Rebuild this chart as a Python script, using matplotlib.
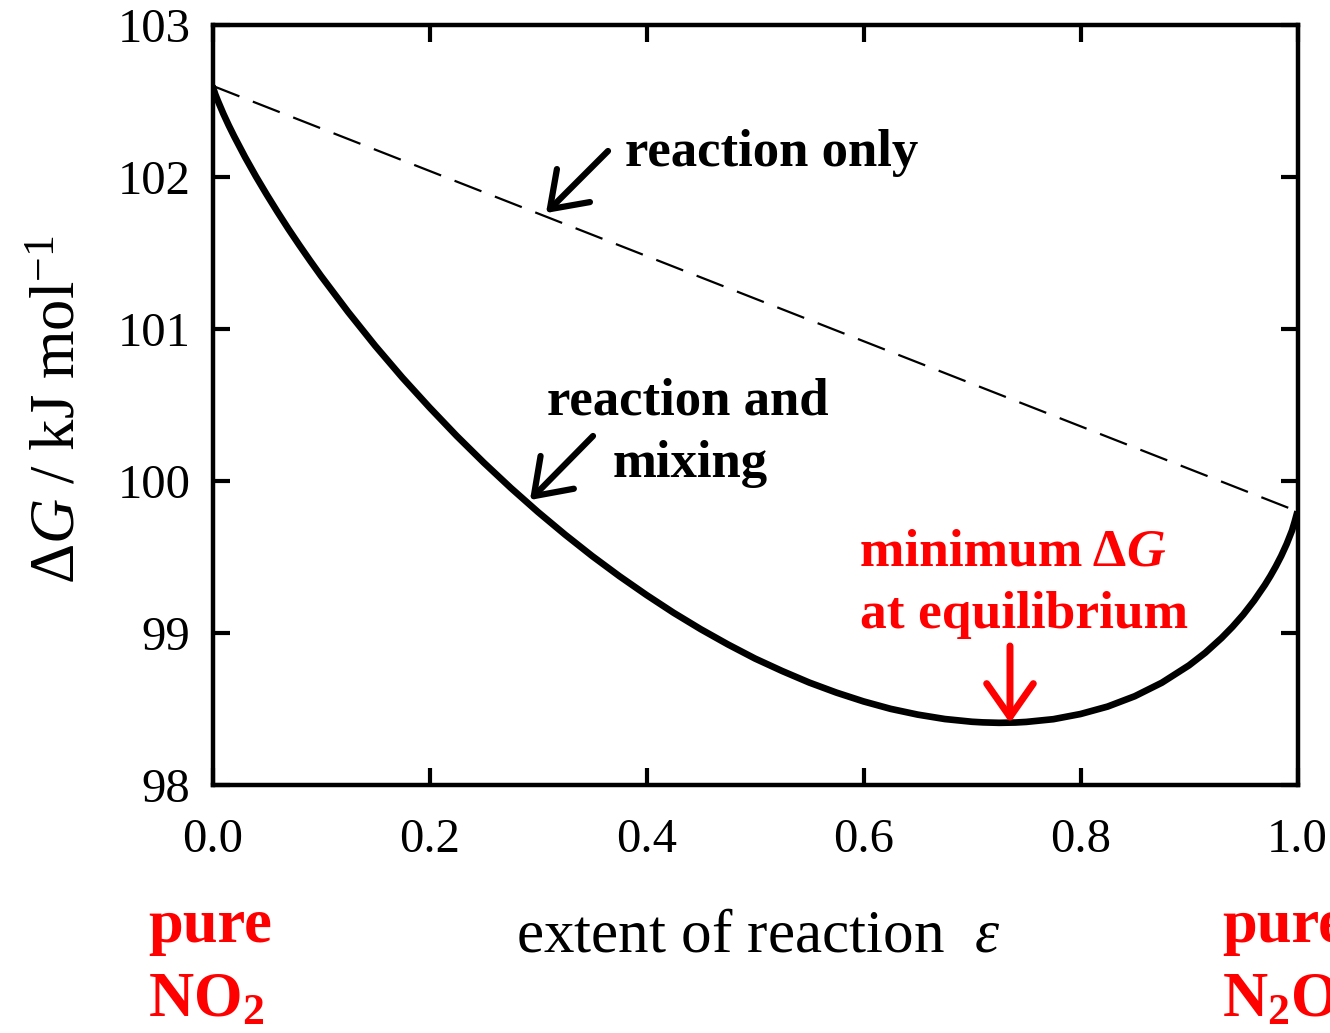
import matplotlib
matplotlib.use("Agg")
import matplotlib.pyplot as plt

plt.rcParams['font.family'] = ['Liberation Serif', 'DejaVu Serif']
plt.rcParams['mathtext.fontset'] = 'custom'
plt.rcParams['mathtext.rm'] = 'Liberation Serif'
plt.rcParams['mathtext.it'] = 'Liberation Serif:italic'
plt.rcParams['mathtext.bf'] = 'Liberation Serif:bold'

# ---- data ----
extent = [0.0, 0.0025, 0.005, 0.01, 0.015, 0.02, 0.03, 0.04, 0.05, 0.06,
          0.07, 0.08, 0.09, 0.10, 0.125, 0.15, 0.175, 0.20, 0.225, 0.25,
          0.275, 0.30, 0.325, 0.35, 0.375, 0.40, 0.425, 0.45, 0.475, 0.50,
          0.525, 0.55, 0.575, 0.60, 0.625, 0.65, 0.675, 0.70, 0.71, 0.725,
          0.74, 0.75, 0.775, 0.80, 0.825, 0.85, 0.875, 0.90, 0.915, 0.93,
          0.94, 0.95, 0.96, 0.97, 0.975, 0.98, 0.985, 0.99, 0.995, 0.9975,
          1.0]
dG_mixing = [102.600, 102.545, 102.500, 102.416, 102.339, 102.267, 102.131,
             102.004, 101.884, 101.769, 101.658, 101.552, 101.449, 101.349,
             101.112, 100.889, 100.680, 100.484, 100.297, 100.121, 99.954,
             99.796, 99.647, 99.506, 99.374, 99.250, 99.133, 99.025, 98.925,
             98.832, 98.750, 98.674, 98.608, 98.550, 98.501, 98.463, 98.434,
             98.416, 98.412, 98.409, 98.411, 98.415, 98.433, 98.467, 98.516,
             98.584, 98.673, 98.787, 98.870, 98.967, 99.040, 99.121, 99.213,
             99.317, 99.375, 99.438, 99.507, 99.585, 99.675, 99.735, 99.800]
extent_line = [0.0, 1.0]
dG_reaction_only = [102.60, 99.80]
xticks = [0.0, 0.2, 0.4, 0.6, 0.8, 1.0]
xtick_labels = ['0.0', '0.2', '0.4', '0.6', '0.8', '1.0']
yticks = [98, 99, 100, 101, 102, 103]
ytick_labels = ['98', '99', '100', '101', '102', '103']

W, H = 1330, 1033
fig = plt.figure(figsize=(W / 100, H / 100), dpi=100)
L, R, T, B = 212.5, 1297.5, 25, 785
ax = fig.add_axes([L / W, 1 - B / H, (R - L) / W, (B - T) / H])

ax.plot(extent, dG_mixing, color='black', lw=4.8, solid_capstyle='butt',
        solid_joinstyle='round', zorder=3)
ln, = ax.plot(extent_line, dG_reaction_only, color='black', lw=1.6, zorder=2)
ln.set_dashes((13, 6.5))

ax.set_xlim(0, 1)
ax.set_ylim(98, 103)
ax.set_xticks(xticks)
ax.set_xticklabels(xtick_labels)
ax.set_yticks(yticks)
ax.set_yticklabels(ytick_labels)
for s in ax.spines.values():
    s.set_linewidth(3.2)
ax.tick_params(direction='in', length=12, width=3.0, top=True, right=True,
               labelsize=35)
ax.tick_params(axis='x', pad=24)
ax.tick_params(axis='y', pad=16)

def fp(x, y):
    return (x, H - y)

# axis labels
fig.text(758 / W, 1 - 952 / H, r'extent of reaction  $\varepsilon$',
         fontsize=44, ha='center', va='baseline')
fig.text(60 / W, 1 - 410 / H, r'$\Delta G$ / kJ mol$^{-1}$',
         fontsize=45, rotation=90, ha='center', va='center')

# black annotations
fig.text(625 / W, 1 - 166 / H, 'reaction only', fontsize=38,
         fontweight='bold', ha='left', va='baseline')
fig.text(688 / W, 1 - 414 / H, 'reaction and', fontsize=38,
         fontweight='bold', ha='center', va='baseline')
fig.text(690 / W, 1 - 477 / H, 'mixing', fontsize=38,
         fontweight='bold', ha='center', va='baseline')

arrow_kw = dict(arrowstyle='->,head_length=0.6,head_width=0.42', lw=4.5,
                color='black', shrinkA=0, shrinkB=0, mutation_scale=40)
ax.annotate('', xy=fp(546, 213), xytext=fp(608, 151),
            xycoords='figure pixels', textcoords='figure pixels',
            arrowprops=arrow_kw)
ax.annotate('', xy=fp(530, 500), xytext=fp(593, 436),
            xycoords='figure pixels', textcoords='figure pixels',
            arrowprops=arrow_kw)

# red annotations
red = '#ff0000'
t1 = fig.text(860 / W, 1 - 565 / H, 'minimum \u0394', fontsize=38.5,
              fontweight='bold', color=red, ha='left', va='baseline')
fig.canvas.draw()
ax.annotate('G', xy=(1, 0), xycoords=t1, fontsize=38.5, fontweight='bold',
            fontstyle='italic', color=red, ha='left', va='bottom')
fig.text(860 / W, 1 - 628 / H, 'at equilibrium', fontsize=38.5,
         fontweight='bold', color=red, ha='left', va='baseline')
red_kw = dict(arrowstyle='->,head_length=0.6,head_width=0.42', lw=5,
              color=red, shrinkA=0, shrinkB=0, mutation_scale=40)
ax.annotate('', xy=fp(1010, 723), xytext=fp(1010, 646),
            xycoords='figure pixels', textcoords='figure pixels',
            arrowprops=red_kw)

# end labels (the right one runs off the edge as in the original)
for xl, l1, l2 in [(148, 'pure', r'$\mathbf{NO_2}$'),
                   (1222, 'pure', r'$\mathbf{N_2O_4}$')]:
    fig.text(xl / W, 1 - 942 / H, l1, fontsize=45, fontweight='bold',
             color=red, ha='left', va='baseline')
    fig.text(xl / W, 1 - 1016 / H, l2, fontsize=45, fontweight='bold',
             color=red, ha='left', va='baseline')

fig.savefig('out.png', dpi=100)
